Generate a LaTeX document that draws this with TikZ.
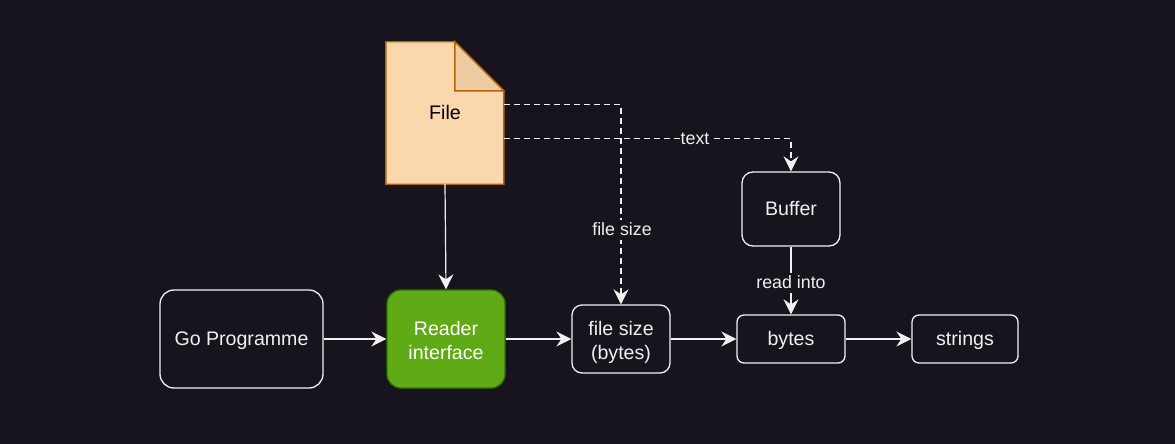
\documentclass[tikz,border=0pt]{standalone}
\usepackage{fontspec}
\setmainfont{Liberation Sans}
\usetikzlibrary{arrows.meta,calc}
\definecolor{bgc}{HTML}{18141D}
\definecolor{linec}{HTML}{F0F0F0}
\definecolor{filefill}{HTML}{FAD7AC}
\definecolor{filefold}{HTML}{EDCBA3}
\definecolor{fileline}{HTML}{B46504}
\definecolor{greenfill}{HTML}{60A917}
\definecolor{greenline}{HTML}{2D7600}
\newcommand{\nodestrut}{\rule[-6pt]{0pt}{24pt}}
\newcommand{\lblstrut}{\rule[-4pt]{0pt}{18pt}}
\newcommand{\twolines}[2]{\parbox[c][60pt][c]{90pt}{\centering\vspace*{5pt}\nodestrut #1\\\nodestrut #2}}
\tikzset{
  x=1pt,y=-1pt,
  box/.style={draw=linec,line width=1.3pt,text=linec,inner sep=0pt,font=\fontsize{19.6}{24}\selectfont},
  conn/.style={draw=linec,line width=1.2pt,-{Stealth[length=15pt,width=15pt,inset=5pt]}},
  dashconn/.style={conn,dash pattern=on 6pt off 4pt},
  lbl/.style={fill=bgc,text=linec,inner sep=1pt,font=\fontsize{17.8}{20}\selectfont,
    execute at begin node=\lblstrut},
}
\begin{document}
\begin{tikzpicture}
\useasboundingbox[fill=bgc] (0,0) rectangle (1175,444);
% nodes
\node[inner sep=0pt,minimum width=118pt,minimum height=142pt] (file) at (445,113) {};
\draw[fill=filefill,draw=fileline,line width=1.4pt,line join=miter]
  (file.north west) -- ++(69,0) -- ++(49,49) |- (file.south west) -- cycle;
\draw[fill=filefold,draw=fileline,line width=1.4pt]
  ($(file.north west)+(69,0)$) -- ++(49,49) -| cycle;
\node[inner sep=0pt,font=\fontsize{19.6}{24}\selectfont,text=black] (filetext) at (file.center) {\nodestrut File};
\node[box,rounded corners=14pt,minimum width=163pt,minimum height=98pt] (go) at (241.5,339) {\nodestrut Go Programme};
\node[box,rounded corners=14pt,minimum width=118pt,minimum height=98pt,fill=greenfill,draw=greenline,text=white] (reader) at (446,339) {\twolines{Reader}{interface}};
\node[box,rounded corners=10pt,minimum width=98pt,minimum height=68pt] (fsize) at (621,339) {\twolines{file size}{(bytes)}};
\node[box,rounded corners=11pt,minimum width=98pt,minimum height=74pt] (buffer) at (791,209) {\nodestrut Buffer};
\node[box,rounded corners=7pt,minimum width=108pt,minimum height=48pt] (bytes) at (791,339) {\nodestrut bytes};
\node[box,rounded corners=7pt,minimum width=106pt,minimum height=48pt] (strings) at (965,339) {\nodestrut strings};
% free ends on the file edge
\coordinate (fileA) at ($(file.north east)+(0,62.5)$);
\coordinate (fileB) at ($(file.north east)+(0,96.5)$);
% connectors
\draw[conn] (file.south) -- (reader.north);
\draw[conn] (go) -- (reader);
\draw[conn] (reader) -- (fsize);
\draw[conn] (fsize) -- (bytes);
\draw[conn] (bytes) -- (strings);
\draw[dashconn] (fileA) -| (fsize.north);
\draw[dashconn] (fileB) -| (buffer.north);
\draw[conn] (buffer) -- (bytes);
% labels
\node[lbl] (lfs) at (622,230) {file size};
\node[lbl] (ltx) at (695,139) {text};
\node[lbl] (lri) at (791,283) {read into};
\end{tikzpicture}
\end{document}
